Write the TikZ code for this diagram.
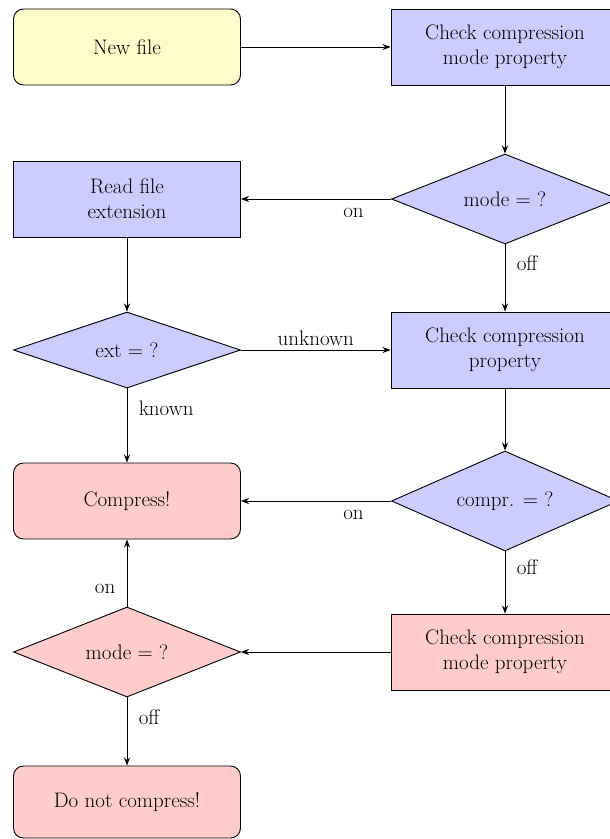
\documentclass[tikz,border=0pt]{standalone}
\usetikzlibrary{shapes.geometric,arrows.meta}
\begin{document}
\begin{tikzpicture}[x=1pt,y=-1pt,
  every node/.style={font=\fontsize{21}{25}\selectfont},
  base/.style={draw=black,line width=0.9pt,minimum width=227pt,minimum height=76pt,align=center,inner sep=2pt},
  startbox/.style={base,rounded corners=10pt,fill=yellow!20},
  procbox/.style={base,fill=blue!20},
  endbox/.style={base,rounded corners=10pt,fill=red!20},
  warnbox/.style={base,fill=red!20},
  decide/.style={draw=black,line width=0.9pt,diamond,shape aspect=2.5,inner sep=0pt,minimum width=227pt},
  arr/.style={draw=black,line width=0.9pt,-{Stealth[length=8pt,width=6pt,inset=2.5pt]}},
  lbl/.style={inner sep=3.3pt}
]
\useasboundingbox (0,0) rectangle (610,839);

% left column
\node[startbox] (new) at (127,47) {New file};
\node[procbox] (read) at (127,199) {Read file\\extension};
\node[decide,fill=blue!20,minimum height=76pt] (ext) at (127,350) {ext = ?};
\node[endbox] (comp) at (127,501) {Compress!};
\node[decide,fill=red!20,minimum height=90pt] (mode2) at (127,652) {mode = ?};
\node[endbox,minimum height=72pt] (nocomp) at (127,802) {Do not compress!};

% right column
\node[procbox,minimum width=228pt] (cmode) at (505,47) {Check compression\\mode property};
\node[decide,fill=blue!20,minimum height=90pt] (mode1) at (505,199) {mode = ?};
\node[procbox,minimum width=228pt] (cprop) at (505,350) {Check compression\\property};
\node[decide,fill=blue!20,minimum height=100pt] (compr) at (505,501) {compr. = ?};
\node[warnbox,minimum width=228pt] (cmode2) at (505,652) {Check compression\\mode property};

% connectors
\draw[arr] (new) -- (cmode);
\draw[arr] (cmode) -- (mode1);
\draw[arr] (mode1) -- node[lbl,below=5pt,pos=0.25] {on} (read);
\draw[arr] (mode1) -- node[lbl,right=8pt,pos=0.28] {off} (cprop);
\draw[arr] (read) -- (ext);
\draw[arr] (ext) -- node[lbl,above=1pt,pos=0.5] {unknown} (cprop);
\draw[arr] (ext) -- node[lbl,right=8pt,pos=0.27] {known} (comp);
\draw[arr] (cprop) -- (compr);
\draw[arr] (compr) -- node[lbl,below=5pt,pos=0.25] {on} (comp);
\draw[arr] (compr) -- node[lbl,right=8pt,pos=0.26] {off} (cmode2);
\draw[arr] (cmode2) -- (mode2);
\draw[arr] (mode2) -- node[lbl,left=8pt,pos=0.26] {on} (comp);
\draw[arr] (mode2) -- node[lbl,right=8pt,pos=0.29] {off} (nocomp);
\end{tikzpicture}
\end{document}
